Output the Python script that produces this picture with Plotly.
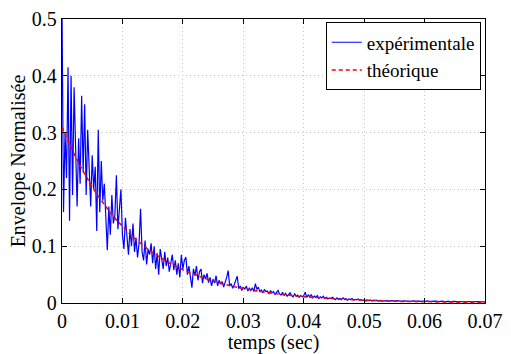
import numpy as np
import plotly.graph_objects as go

# ---- data ----
t_exp_start, t_exp_end = 0.0, 0.07
env_exp = [
    0.52, 0.16, 0.30, 0.22, 0.415, 0.145, 0.40, 0.19, 0.38, 0.25,
    0.17, 0.29, 0.21, 0.365, 0.23, 0.35, 0.19, 0.305, 0.24, 0.17,
    0.26, 0.20, 0.24, 0.127, 0.305, 0.16, 0.25, 0.18, 0.21, 0.14,
    0.093, 0.17, 0.12, 0.19, 0.14, 0.155, 0.225, 0.13, 0.17, 0.20,
    0.12, 0.095, 0.15, 0.11, 0.085, 0.13, 0.10, 0.14, 0.09, 0.115,
    0.08, 0.105, 0.166, 0.09, 0.075, 0.11, 0.068, 0.095, 0.085, 0.105,
    0.07, 0.10, 0.06, 0.088, 0.05, 0.095, 0.075, 0.06, 0.09, 0.065,
    0.08, 0.055, 0.07, 0.085, 0.058, 0.075, 0.05, 0.07, 0.045, 0.085,
    0.06, 0.075, 0.081, 0.05, 0.065, 0.045, 0.027, 0.06, 0.048, 0.065,
    0.04, 0.055, 0.06, 0.035, 0.05, 0.042, 0.052, 0.036, 0.045, 0.03,
    0.042, 0.035, 0.048, 0.03, 0.04, 0.033, 0.038, 0.028, 0.036, 0.045,
    0.057, 0.03, 0.034, 0.026, 0.032, 0.038, 0.047, 0.025, 0.03, 0.022,
    0.028, 0.024, 0.03, 0.021, 0.026, 0.022, 0.027, 0.02, 0.034, 0.024,
    0.028, 0.02, 0.023, 0.018, 0.024, 0.02, 0.021, 0.016, 0.022, 0.018,
    0.02, 0.015, 0.018, 0.022, 0.016, 0.014, 0.019, 0.013, 0.017, 0.012,
    0.015, 0.018, 0.013, 0.011, 0.016, 0.012, 0.014, 0.01, 0.013, 0.011,
    0.013, 0.019, 0.01, 0.014, 0.011, 0.015, 0.009, 0.012, 0.01, 0.013,
    0.008, 0.011, 0.009, 0.012, 0.008, 0.01, 0.007, 0.009, 0.008, 0.01,
    0.008, 0.006, 0.009, 0.007, 0.008, 0.006, 0.009, 0.0065, 0.0075, 0.005,
    0.007, 0.006, 0.008, 0.005, 0.0065, 0.0055, 0.007, 0.005, 0.006, 0.0045,
    0.005, 0.0035, 0.0045, 0.004, 0.0055, 0.0035, 0.0045, 0.004, 0.005, 0.0035,
    0.0042, 0.0038, 0.0046, 0.0033, 0.004, 0.0036, 0.0044, 0.0034, 0.0041, 0.0037,
    0.0038, 0.0032, 0.0042, 0.0035, 0.004, 0.003, 0.0036, 0.0033, 0.0039, 0.003,
    0.0035, 0.0031, 0.0037, 0.0029, 0.0034, 0.003, 0.0036, 0.0028, 0.0033, 0.003,
    0.0034, 0.0028, 0.0038, 0.003, 0.0033, 0.0027, 0.0031, 0.0029, 0.0034, 0.0026,
    0.003, 0.0027, 0.0032, 0.0025, 0.0029, 0.0026, 0.003, 0.0024, 0.0028, 0.0025,
    0.0028, 0.0023, 0.0027, 0.0024, 0.0026, 0.0022, 0.0025, 0.0023, 0.0026, 0.0021,
    0.0024, 0.0022, 0.0025, 0.002, 0.0023, 0.0021, 0.0024, 0.002, 0.0022, 0.002,
    0.0021,
]
t_exp = np.linspace(t_exp_start, t_exp_end, len(env_exp))

env_theo = [
    0.310, 0.2852, 0.2624, 0.2414, 0.2221, 0.2044, 0.1880, 0.1730, 0.1592, 0.1464,
    0.1347, 0.1240, 0.1140, 0.1049, 0.0965, 0.0888, 0.0817, 0.0752, 0.0692, 0.0636,
    0.0585, 0.0539, 0.0495, 0.0456, 0.0420, 0.0386, 0.0355, 0.0327, 0.0300, 0.0276,
    0.0254, 0.0234, 0.0215, 0.0198, 0.0182, 0.0168, 0.0154, 0.0142, 0.0131, 0.0120,
    0.0111, 0.0102, 0.0094, 0.0086, 0.0079, 0.0073, 0.0067, 0.0062, 0.0057, 0.0052,
    0.0048, 0.0044, 0.0041, 0.0037, 0.0034, 0.0032, 0.0029, 0.0027, 0.0025, 0.0023,
    0.0021, 0.0019, 0.0018, 0.0016, 0.0015, 0.0014, 0.0013, 0.0012, 0.0011, 0.0010,
    0.0009,
]
t_theo = np.linspace(0.0, 0.07, len(env_theo))

x_ticks = [0, 0.01, 0.02, 0.03, 0.04, 0.05, 0.06, 0.07]
x_labels = ["0", "0.01", "0.02", "0.03", "0.04", "0.05", "0.06", "0.07"]
y_ticks = [0, 0.1, 0.2, 0.3, 0.4, 0.5]
y_labels = ["0", "0.1", "0.2", "0.3", "0.4", "0.5"]

FONT = "'Liberation Serif', 'Times New Roman', 'DejaVu Serif', serif"
FS = 20

fig = go.Figure()
fig.add_trace(go.Scatter(x=t_exp, y=env_exp, mode="lines", name="expérimentale",
                         line=dict(color="#0000ff", width=1.2)))
fig.add_trace(go.Scatter(x=t_theo, y=env_theo, mode="lines", name="théorique",
                         line=dict(color="#ff0000", width=1.6, dash="4px,3px")))

axis_common = dict(
    showline=True, linecolor="black", linewidth=1.3, mirror="ticks",
    ticks="inside", ticklen=5, tickcolor="black", tickwidth=1,
    showgrid=True, gridcolor="#c8c8c8", gridwidth=1, griddash="1px,3px",
    zeroline=False, ticklabeloverflow="allow",
    tickfont=dict(family=FONT, size=FS, color="black"),
)

fig.update_layout(
    width=511, height=354,
    margin=dict(l=62, r=24, t=8, b=51),
    paper_bgcolor="white", plot_bgcolor="white",
    font=dict(family=FONT, size=FS, color="black"),
    xaxis=dict(range=[0, 0.07], tickvals=x_ticks, ticktext=x_labels,
               title=dict(text="temps (sec)", standoff=0,
                          font=dict(family=FONT, size=FS)),
               **axis_common),
    yaxis=dict(range=[0, 0.50001], tickvals=y_ticks, ticktext=y_labels,
               title=dict(text="Envelope Normalisée", standoff=0,
                          font=dict(family=FONT, size=FS)),
               **axis_common),
    legend=dict(x=0.99, y=0.988, xanchor="right", yanchor="top",
                bgcolor="white", bordercolor="black", borderwidth=1,
                font=dict(family=FONT, size=19), tracegroupgap=0,
                itemwidth=30),
    showlegend=True,
)

fig.write_html("out.html")
